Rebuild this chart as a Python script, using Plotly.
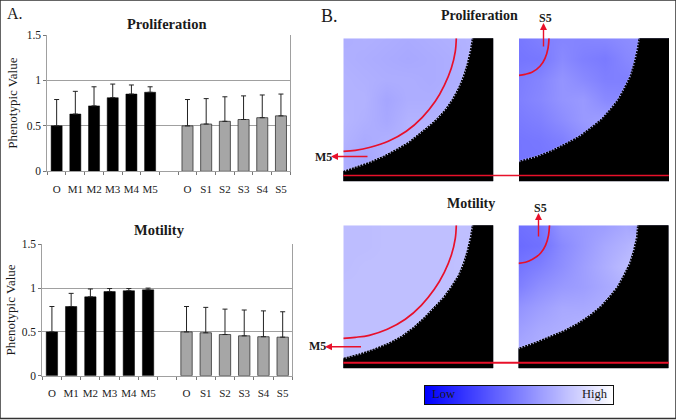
import plotly.graph_objects as go

W, H = 676, 420

# ---- bar data ----
slots = list(range(13))
tick_labels = ["O", "M1", "M2", "M3", "M4", "M5", "", "O", "S1", "S2", "S3", "S4", "S5"]
m_pos = [0, 1, 2, 3, 4, 5]
s_pos = [7, 8, 9, 10, 11, 12]
prolif_m = [0.50, 0.63, 0.72, 0.81, 0.85, 0.87]
prolif_m_err = [0.29, 0.25, 0.21, 0.15, 0.10, 0.06]
prolif_s = [0.50, 0.52, 0.55, 0.57, 0.59, 0.61]
prolif_s_err = [0.29, 0.28, 0.27, 0.26, 0.25, 0.24]
motil_m = [0.50, 0.79, 0.90, 0.96, 0.97, 0.98]
motil_m_err = [0.29, 0.15, 0.09, 0.035, 0.025, 0.02]
motil_s = [0.50, 0.49, 0.47, 0.455, 0.445, 0.44]
motil_s_err = [0.29, 0.29, 0.29, 0.295, 0.295, 0.29]

# ---- heatmap data: estimated on a coarse grid, panel pixel units ----
grid_x = [0, 21, 43, 64, 86, 107, 129, 150]
grid_y = [0, 20, 41, 61, 82, 102, 123, 143]
prolif_left = [
    [.68, .69, .68, .67, .68, .69, .70, .70],
    [.69, .68, .67, .66, .67, .68, .70, .70],
    [.70, .69, .68, .68, .67, .68, .69, .70],
    [.70, .70, .65, .68, .68, .69, .70, .70],
    [.71, .69, .66, .70, .70, .70, .71, .71],
    [.70, .67, .69, .70, .70, .71, .71, .71],
    [.68, .65, .69, .70, .71, .71, .71, .71],
    [.69, .69, .70, .70, .71, .71, .71, .71],
]
prolif_right = [
    [.47, .50, .52, .52, .53, .55, .57, .57],
    [.46, .47, .54, .50, .48, .53, .56, .57],
    [.49, .52, .58, .54, .50, .50, .55, .57],
    [.50, .53, .58, .60, .54, .53, .55, .57],
    [.48, .50, .55, .60, .62, .58, .58, .58],
    [.46, .47, .50, .56, .64, .62, .60, .60],
    [.46, .46, .47, .52, .62, .62, .60, .60],
    [.50, .50, .50, .52, .60, .60, .60, .60],
]
motil_left = [
    [.74, .74, .75, .75, .75, .75, .75, .76],
    [.74, .74, .75, .75, .75, .75, .75, .76],
    [.74, .75, .75, .75, .75, .75, .76, .76],
    [.75, .75, .75, .75, .75, .75, .76, .76],
    [.75, .75, .75, .75, .75, .76, .76, .76],
    [.75, .75, .75, .75, .76, .76, .76, .76],
    [.75, .75, .75, .76, .76, .76, .76, .76],
    [.75, .75, .76, .76, .76, .76, .76, .76],
]
motil_right = [
    [.44, .46, .58, .60, .62, .66, .62, .62],
    [.42, .44, .54, .60, .66, .70, .76, .76],
    [.46, .50, .56, .62, .68, .74, .78, .78],
    [.50, .56, .60, .62, .66, .70, .76, .76],
    [.58, .62, .66, .66, .68, .72, .72, .72],
    [.62, .66, .68, .70, .70, .72, .72, .72],
    [.66, .68, .70, .70, .70, .72, .72, .72],
    [.68, .70, .70, .70, .70, .72, .72, .72],
]

# mask edge (panel pixels from the top left of each panel)
edge_pl_x = [129, 127, 124, 120, 115, 109, 102, 94, 85, 75, 65, 53, 40, 26, 12, 0]
edge_pl_y = [0, 12, 25, 38, 50, 61, 71, 80, 88, 96, 104, 111, 118, 124, 129, 133]
edge_pr_x = [120, 118, 115, 111, 105, 99, 91, 82, 72, 60, 47, 33, 18, 0]
edge_pr_y = [0, 12, 25, 38, 50, 61, 71, 81, 89, 98, 105, 112, 118, 123]
edge_ml_x = [129, 127, 124, 120, 115, 108, 100, 91, 81, 70, 58, 45, 30, 15, 0]
edge_ml_y = [0, 12, 25, 38, 50, 61, 72, 82, 92, 102, 111, 118, 124, 129, 133]
edge_mr_x = [119, 118, 115, 111, 105, 99, 91, 82, 71, 59, 46, 32, 17, 0]
edge_mr_y = [0, 12, 25, 38, 50, 61, 71, 81, 90, 98, 105, 111, 117, 123]

# red contour lines
arc_pl_x = [113, 112, 108, 101, 92, 79, 63, 45, 27, 12, 0]
arc_pl_y = [0, 13, 30, 47, 63, 79, 93, 103, 109, 112, 113]
arc_pr_x = [30, 29, 26, 21, 13, 6, 0]
arc_pr_y = [0, 10, 20, 28, 34, 36, 37]
arc_ml_x = [113, 112, 108, 101, 91, 78, 62, 44, 26, 12, 0]
arc_ml_y = [0, 13, 30, 47, 64, 80, 94, 104, 110, 112, 113]
arc_mr_x = [31, 30, 27, 22, 14, 7, 0]
arc_mr_y = [0, 10, 20, 28, 34, 37, 38]

legend_scale = [[i / 20 for i in range(21)]]

BLUE_WHITE = [[0, "#0000ff"], [1, "#ffffff"]]
SERIF = "Liberation Serif"
TXT = "#1a1a1a"
RED = "#e8102a"
GREY = "#a0a0a0"


def fx(p):
    return p / W


def fy(p):
    return 1 - p / H


fig = go.Figure()
layout = dict(
    template="none",
    width=W, height=H, margin=dict(l=0, r=0, t=0, b=0, pad=0),
    paper_bgcolor="white", plot_bgcolor="white", showlegend=False,
    font=dict(family=SERIF, color=TXT, size=12),
)


def bar_panel(idx, x0, x1, y0, y1, mv, me, sv, se, standoff):
    xn, yn = f"x{idx}", f"y{idx}"
    fig.add_trace(go.Bar(x=m_pos, y=mv, width=0.59, marker=dict(color="black", line=dict(color="black", width=0.5)),
                         error_y=dict(type="data", symmetric=False, array=me, arrayminus=[0] * 6,
                                      color="#222", thickness=1, width=2.5),
                         xaxis=xn, yaxis=yn))
    fig.add_trace(go.Bar(x=s_pos, y=sv, width=0.59, marker=dict(color="#a6a6a6", line=dict(color="#333", width=0.8)),
                         error_y=dict(type="data", symmetric=False, array=se, arrayminus=[0] * 6,
                                      color="#222", thickness=1, width=2.5),
                         xaxis=xn, yaxis=yn))
    layout[f"xaxis{idx}"] = dict(
        domain=[fx(x0), fx(x1)], anchor=yn, range=[-0.5, 12.5], automargin=False,
        tickvals=slots, ticktext=tick_labels, ticks="", ticklabelstandoff=7, tickangle=0,
        tickfont=dict(size=11, family=SERIF, color=TXT), showgrid=False, zeroline=False,
        showline=True, linecolor=GREY, linewidth=1, mirror=False,
        minor=dict(ticks="outside", tick0=-0.5, dtick=1, ticklen=3, tickcolor="#777", showgrid=False),
    )
    layout[f"yaxis{idx}"] = dict(
        domain=[fy(y1), fy(y0)], anchor=xn, range=[0, 1.5], automargin=False,
        tickvals=[0, 0.5, 1, 1.5], ticktext=["0", "0.5", "1", "1.5"], ticks="outside", ticklen=3,
        tickcolor="#777", tickfont=dict(size=11.5, family=SERIF, color=TXT),
        showgrid=True, gridcolor=GREY, gridwidth=1, zeroline=False,
        showline=True, linecolor=GREY, linewidth=1, mirror=True,
        title=dict(text="Phenotypic Value", font=dict(size=13, family=SERIF, color=TXT), standoff=standoff),
    )


def heat_panel(idx, x0, y0, z, ex, ey, ax, ay, speck):
    xn, yn = f"x{idx}", f"y{idx}"
    fig.add_trace(go.Heatmap(x=grid_x, y=grid_y, z=z, colorscale=BLUE_WHITE, zmin=0, zmax=1,
                             showscale=False, zsmooth="best", xaxis=xn, yaxis=yn))
    fig.add_trace(go.Scatter(x=ex + [0, 150, 150, ex[0]], y=ey + [143, 143, 0, 0], mode="lines",
                             fill="toself", fillcolor="black", line=dict(color="black", width=1),
                             xaxis=xn, yaxis=yn))
    fig.add_trace(go.Scatter(x=ex, y=ey, mode="lines", line=dict(color=speck, width=2, dash="1px,2px"),
                             xaxis=xn, yaxis=yn))
    fig.add_trace(go.Scatter(x=ax, y=ay, mode="lines", line=dict(color=RED, width=1.7, shape="spline"),
                             xaxis=xn, yaxis=yn))
    layout[f"xaxis{idx}"] = dict(domain=[fx(x0), fx(x0 + 150)], anchor=yn, range=[0, 150], visible=False, automargin=False)
    layout[f"yaxis{idx}"] = dict(domain=[fy(y0 + 143), fy(y0)], anchor=xn, range=[143, 0], visible=False, automargin=False)


bar_panel(1, 47.3, 290.3, 35, 171.3, prolif_m, prolif_m_err, prolif_s, prolif_s_err, 6)
bar_panel(2, 42.3, 292.3, 244.3, 375.7, motil_m, motil_m_err, motil_s, motil_s_err, 3)
heat_panel(3, 343.3, 38.3, prolif_left, edge_pl_x, edge_pl_y, arc_pl_x, arc_pl_y, "#c4c4fb")
heat_panel(4, 519, 38.3, prolif_right, edge_pr_x, edge_pr_y, arc_pr_x, arc_pr_y, "#a9a9fb")
heat_panel(5, 343.3, 225.3, motil_left, edge_ml_x, edge_ml_y, arc_ml_x, arc_ml_y, "#c6c6fb")
heat_panel(6, 518.5, 225.3, motil_right, edge_mr_x, edge_mr_y, arc_mr_x, arc_mr_y, "#c0c0fb")

# Low/High strip
fig.add_trace(go.Heatmap(z=legend_scale, colorscale=BLUE_WHITE, zmin=0, zmax=1, showscale=False,
                         zsmooth="best", xaxis="x7", yaxis="y7"))
layout["xaxis7"] = dict(domain=[fx(425), fx(612.7)], anchor="y7", showticklabels=False, ticks="", showgrid=False,
                        zeroline=False, showline=True, linecolor="#111", linewidth=1, mirror=True, range=[0, 20], automargin=False)
layout["yaxis7"] = dict(domain=[fy(404.3), fy(385.7)], anchor="x7", showticklabels=False, ticks="", showgrid=False,
                        zeroline=False, showline=True, linecolor="#111", linewidth=1, mirror=True, automargin=False)


def text(s, x, y, size, bold=False):
    return dict(text=f"<b>{s}</b>" if bold else s, x=fx(x), y=fy(y), xref="paper", yref="paper",
                showarrow=False, xanchor="center", yanchor="middle",
                font=dict(size=size, family=SERIF, color=TXT))


def arrow(x_from, y_from, x_to, y_to):
    return dict(x=fx(x_to), y=fy(y_to), ax=x_from - x_to, ay=y_from - y_to, xref="paper", yref="paper",
                axref="pixel", ayref="pixel", text="", showarrow=True, arrowhead=2, arrowsize=1,
                arrowwidth=1.4, arrowcolor=RED)


layout["annotations"] = [
    text("A.", 15, 14, 16),
    text("B.", 329, 16, 18),
    text("Proliferation", 166, 24, 14.5, True),
    text("Motility", 159, 230, 14.5, True),
    text("Proliferation", 479, 16, 14, True),
    text("Motility", 471, 203, 14, True),
    text("M5", 323, 156.5, 12, True),
    text("S5", 545.5, 18.5, 12, True),
    text("M5", 317, 346, 12, True),
    text("S5", 540, 208, 12, True),
    text("Low", 443, 394, 12.5),
    text("High", 595, 394, 12.5),
    arrow(369, 156.5, 331, 156.5),
    arrow(543.5, 48, 543.5, 23),
    arrow(362.5, 346.7, 325, 346.7),
    arrow(538.5, 238, 538.5, 213),
]
layout["shapes"] = [
    dict(type="line", xref="paper", yref="paper", x0=fx(343.3), x1=fx(668.8), y0=fy(175.5), y1=fy(175.5),
         line=dict(color=RED, width=1.7), layer="above"),
    dict(type="line", xref="paper", yref="paper", x0=fx(343.3), x1=fx(668.8), y0=fy(362.7), y1=fy(362.7),
         line=dict(color=RED, width=2), layer="above"),
    dict(type="rect", xref="paper", yref="paper", x0=0, x1=1, y0=fy(418.5), y1=1,
         line=dict(color="#333", width=1.5), layer="above"),
]

fig.update_layout(**layout)
fig.write_html("out.html", config=dict(displayModeBar=False),
               post_script="document.body.style.margin='0';document.body.style.overflow='hidden';")
